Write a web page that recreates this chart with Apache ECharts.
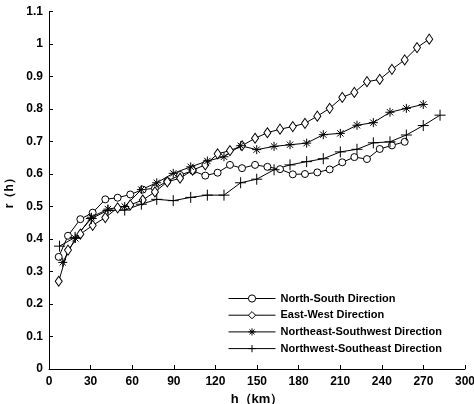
<!DOCTYPE html>
<html><head><meta charset="utf-8">
<script src="https://cdn.jsdelivr.net/npm/echarts@6/dist/echarts.min.js"></script>
<style>html,body{margin:0;padding:0;background:#fff}#c{width:474px;height:404px}</style>
</head><body><div id="c"></div>
<script>
var seriesNames = ['North-South Direction','East-West Direction','Northeast-Southwest Direction','Northwest-Southeast Direction'];
var xTicks = [0,30,60,90,120,150,180,210,240,270,300];
var yTicks = [0,0.1,0.2,0.3,0.4,0.5,0.6,0.7,0.8,0.9,1,1.1];

var hNS = [7.0,13.7,22.6,31.5,40.6,49.5,58.6,67.6,76.4,85.3,94.5,103.6,112.7,121.6,130.5,139.2,148.6,157.5,166.6,175.8,184.6,193.5,202.4,211.5,220.2,229.3,238.5,247.3,256.5];
var rNS = [0.345,0.410,0.461,0.481,0.522,0.527,0.537,0.552,0.556,0.578,0.597,0.610,0.595,0.604,0.628,0.618,0.628,0.622,0.615,0.599,0.600,0.605,0.614,0.636,0.652,0.646,0.677,0.688,0.699];

var hEW = [7.0,13.7,22.6,31.5,40.6,49.5,58.6,67.6,76.4,85.3,94.5,103.6,112.7,121.6,130.5,139.2,148.6,157.5,166.6,175.8,184.6,193.5,202.4,211.5,220.2,229.3,238.5,247.3,256.5,265.4,274.2];
var rEW = [0.270,0.366,0.415,0.442,0.466,0.496,0.505,0.520,0.545,0.576,0.587,0.612,0.628,0.662,0.672,0.687,0.710,0.727,0.738,0.746,0.756,0.778,0.802,0.836,0.851,0.884,0.891,0.922,0.951,0.989,1.015];

var hNE = [9.9,19.0,30.5,42.5,54.6,66.6,77.7,89.6,102.2,114.2,126.2,138.2,149.8,162.3,173.8,185.8,197.8,210.1,222.1,233.9,245.9,257.7,269.9];
var rNE = [0.328,0.402,0.467,0.492,0.500,0.552,0.573,0.602,0.622,0.640,0.653,0.687,0.675,0.685,0.690,0.695,0.721,0.725,0.750,0.758,0.790,0.802,0.814];

var hNW = [7.6,18.8,30.5,42.5,54.6,66.6,77.7,89.6,102.2,114.2,126.2,138.2,149.8,162.3,173.8,185.8,197.8,210.1,222.1,233.9,245.9,257.7,269.9,282.0];
var rNW = [0.378,0.405,0.463,0.488,0.489,0.507,0.522,0.518,0.528,0.535,0.535,0.573,0.584,0.613,0.628,0.638,0.647,0.668,0.676,0.696,0.699,0.720,0.749,0.781];

function pairs(h, r){ return h.map(function(v,i){ return [v, r[i]]; }); }

var FONT = 'Liberation Sans, Arial, sans-serif';
var chart = echarts.init(document.getElementById('c'), null, {renderer:'canvas'});
var base = {type:'line', lineStyle:{color:'#000', width:1}, itemStyle:{color:'#fff', borderColor:'#000', borderWidth:1}, emphasis:{disabled:true}, animation:false, z:2};
var starPath = 'path://M0,-5L0,5M-5,0L5,0M-3.5,-3.5L3.5,3.5M-3.5,3.5L3.5,-3.5';
var plusPath = 'path://M0,-5L0,5M-5,0L5,0';

chart.setOption({
  animation:false,
  backgroundColor:'#fff',
  grid:{left:49, right:9, top:11.5, bottom:35, outerBoundsMode:'none', containLabel:false},
  legend:{
    orient:'vertical', left:228, top:292, padding:0, itemWidth:47, itemHeight:9, itemGap:3.7,
    lineStyle:{width:1, color:'#000'},
    itemStyle:{borderWidth:1, borderColor:'#000'},
    textStyle:{fontFamily:FONT, fontWeight:'bold', fontSize:11, color:'#000', lineHeight:13},
    data:seriesNames
  },
  xAxis:{
    type:'value', min:xTicks[0], max:xTicks[xTicks.length-1], interval:30,
    name:'h（km）', nameLocation:'middle', nameGap:24,
    nameTextStyle:{fontFamily:FONT, fontWeight:'bold', fontSize:13, color:'#000'},
    axisLine:{lineStyle:{color:'#000', width:1}},
    axisTick:{inside:true, length:4, lineStyle:{color:'#000'}},
    axisLabel:{margin:7, fontFamily:FONT, fontWeight:'bold', fontSize:12, color:'#000'},
    splitLine:{show:false}
  },
  yAxis:{
    type:'value', min:yTicks[0], max:yTicks[yTicks.length-1], interval:0.1,
    name:'r（h）', nameLocation:'middle', nameGap:30,
    nameTextStyle:{fontFamily:FONT, fontWeight:'bold', fontSize:12, color:'#000'},
    axisLine:{show:true, lineStyle:{color:'#000', width:1}},
    axisTick:{show:true, inside:true, length:4, lineStyle:{color:'#000'}},
    axisLabel:{margin:6, fontFamily:FONT, fontWeight:'bold', fontSize:12, color:'#000',
      formatter:function(v){ return String(Math.round(v*10)/10); }},
    splitLine:{show:false}
  },
  series:[
    Object.assign({}, base, {name:seriesNames[0], data:pairs(hNS,rNS), symbol:'circle', symbolSize:7}),
    Object.assign({}, base, {name:seriesNames[1], data:pairs(hEW,rEW), symbol:'diamond', symbolSize:[7,10]}),
    Object.assign({}, base, {name:seriesNames[2], data:pairs(hNE,rNE), symbol:starPath, symbolSize:9, itemStyle:{color:'none', borderColor:'#000', borderWidth:1}}),
    Object.assign({}, base, {name:seriesNames[3], data:pairs(hNW,rNW), symbol:plusPath, symbolSize:11, itemStyle:{color:'none', borderColor:'#000', borderWidth:1}})
  ]
});
</script></body></html>
